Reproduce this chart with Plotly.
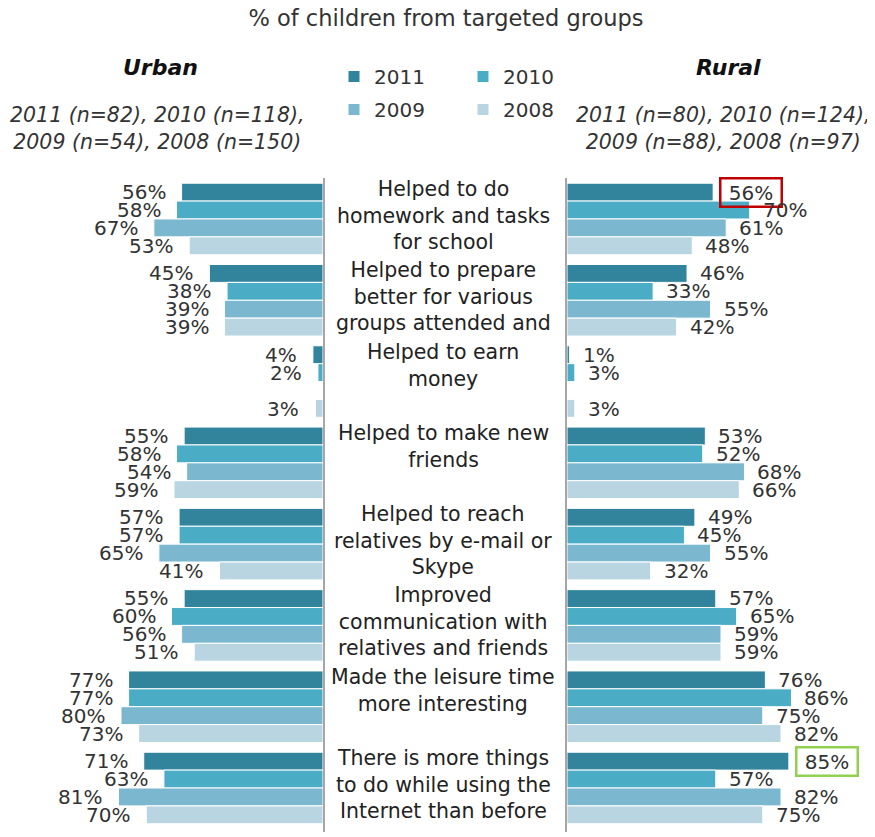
import plotly.graph_objects as go

# categories (centre labels), top to bottom
categories = [
    "Helped to do<br>homework and tasks<br>for school",
    "Helped to prepare<br>better for various<br>groups attended and",
    "Helped to earn<br>money",
    "Helped to make new<br>friends",
    "Helped to reach<br>relatives by e-mail or<br>Skype",
    "Improved<br>communication with<br>relatives and friends",
    "Made the leisure time<br>more interesting",
    "There is more things<br>to do while using the<br>Internet than before",
]
years = ["2011", "2010", "2009", "2008"]
colors = ["#31849B", "#4BACC6", "#7BB8CF", "#B8D5E1"]

urban_2011 = [56, 45, 4, 55, 57, 55, 77, 71]
urban_2010 = [58, 38, 2, 58, 57, 60, 77, 63]
urban_2009 = [67, 39, None, 54, 65, 56, 80, 81]
urban_2008 = [53, 39, 3, 59, 41, 51, 73, 70]

rural_2011 = [56, 46, 1, 53, 49, 57, 76, 85]
rural_2010 = [70, 33, 3, 52, 45, 65, 86, 57]
rural_2009 = [61, 55, None, 68, 55, 59, 75, 82]
rural_2008 = [48, 42, 3, 66, 32, 59, 82, 75]

urban = [urban_2011, urban_2010, urban_2009, urban_2008]
rural = [rural_2011, rural_2010, rural_2009, rural_2008]

# highlighted rural labels: (year index, category index) -> box colour
highlights = {(0, 0): "#C00000", (0, 7): "#92D050"}

# the page body has an 8px margin, so the figure is a bit smaller than the window
OFF = 8
W, H = 875 - OFF, 837 - OFF
T, B = 178 - OFF, 5
PH = H - T - B
BARGAP = 0.12
bar_px = PH / len(categories) * (1 - BARGAP) / len(years)

FONT = "DejaVu Sans, Verdana, sans-serif"
TXT = "#333333"


def px(sx):
    # screen column -> paper x
    return (sx - OFF) / W


def py(sy):
    # screen row -> paper y
    return (H - B - (sy - OFF)) / PH


fig = go.Figure()
annotations = []

for k, year in enumerate(years):
    fig.add_trace(go.Bar(
        x=urban[k], y=categories, orientation="h", xaxis="x", yaxis="y",
        name=year, legendgroup=year, legend="legend" if k % 2 == 0 else "legend2",
        marker=dict(color=colors[k], line=dict(color="white", width=1)),
        hoverinfo="x+name",
    ))
    fig.add_trace(go.Bar(
        x=rural[k], y=categories, orientation="h", xaxis="x2", yaxis="y2",
        name=year, legendgroup=year, showlegend=False,
        marker=dict(color=colors[k], line=dict(color="white", width=1)),
        hoverinfo="x+name",
    ))
    ys = (1.5 - k) * bar_px
    for i, cat in enumerate(categories):
        v = urban[k][i]
        if v is not None:
            annotations.append(dict(
                x=v, y=cat, xref="x", yref="y", text=f"{v}%", showarrow=False,
                xanchor="right", yanchor="middle", xshift=-14, yshift=ys,
                font=dict(size=20, color=TXT, family=FONT),
            ))
        v = rural[k][i]
        if v is not None:
            a = dict(
                x=v, y=cat, xref="x2", yref="y2", text=f"{v}%", showarrow=False,
                xanchor="left", yanchor="middle", xshift=11, yshift=ys,
                font=dict(size=20, color=TXT, family=FONT),
            )
            if (k, i) in highlights:
                # boxed label, a little wider than tall
                a.update(text=f"\u00a0{v}%\u00a0", bordercolor=highlights[(k, i)],
                         borderwidth=2.5, borderpad=1, xshift=6)
            annotations.append(a)

# centre labels, hung from the top of each group
for cat in categories:
    annotations.append(dict(
        x=px(443), y=cat, xref="paper", yref="y", text=cat, showarrow=False,
        xanchor="center", yanchor="top", align="center", yshift=44,
        font=dict(size=20.5, color="#222222", family=FONT),
    ))

head = dict(xref="paper", yref="paper", showarrow=False, xanchor="center",
            yanchor="middle", align="center")
annotations += [
    dict(x=px(160), y=py(67), text="<b><i>Urban</i></b>",
         font=dict(size=22, color="#111111", family=FONT), **head),
    dict(x=px(728), y=py(67), text="<b><i>Rural</i></b>",
         font=dict(size=22, color="#111111", family=FONT), **head),
    dict(x=px(157), y=py(128),
         text="<i>2011 (n=82), 2010 (n=118),<br>2009 (n=54), 2008 (n=150)</i>",
         font=dict(size=20.5, color=TXT, family=FONT), **head),
    dict(x=px(723), y=py(128),
         text="<i>2011 (n=80), 2010 (n=124),<br>2009 (n=88), 2008 (n=97)</i>",
         font=dict(size=20.5, color=TXT, family=FONT), **head),
]

yax = dict(type="category", autorange="reversed", showline=True, linecolor="#A6A6A6",
           linewidth=2, showticklabels=False, showgrid=False, zeroline=False, ticks="",
           automargin=False)
legend_style = dict(xref="paper", yref="paper", xanchor="left", yanchor="top",
                    orientation="v", tracegroupgap=4, bgcolor="rgba(0,0,0,0)",
                    font=dict(size=20, color=TXT, family=FONT))

fig.update_layout(
    width=W, height=H,
    margin=dict(l=0, r=0, t=T, b=B, autoexpand=False),
    paper_bgcolor="white", plot_bgcolor="white",
    barmode="group", bargap=BARGAP, bargroupgap=0,
    title=dict(text="% of children from targeted groups", x=px(446), xanchor="center",
               xref="container", yref="container", y=1 - (18 - OFF) / H, yanchor="middle",
               font=dict(size=22.5, color=TXT, family=FONT)),
    xaxis=dict(domain=[0, px(323)], range=[(323 - OFF) / 2.525, 0], visible=False,
               automargin=False),
    xaxis2=dict(domain=[px(567), 1], range=[0, (875 - 567) / 2.61], visible=False,
                automargin=False),
    yaxis=dict(anchor="x", side="right", **yax),
    yaxis2=dict(anchor="x2", side="left", matches="y", **yax),
    legend=dict(x=px(334), y=py(57), **legend_style),
    legend2=dict(x=px(463), y=py(57), **legend_style),
    annotations=annotations,
    font=dict(family=FONT),
)

fig.write_html("out.html")
